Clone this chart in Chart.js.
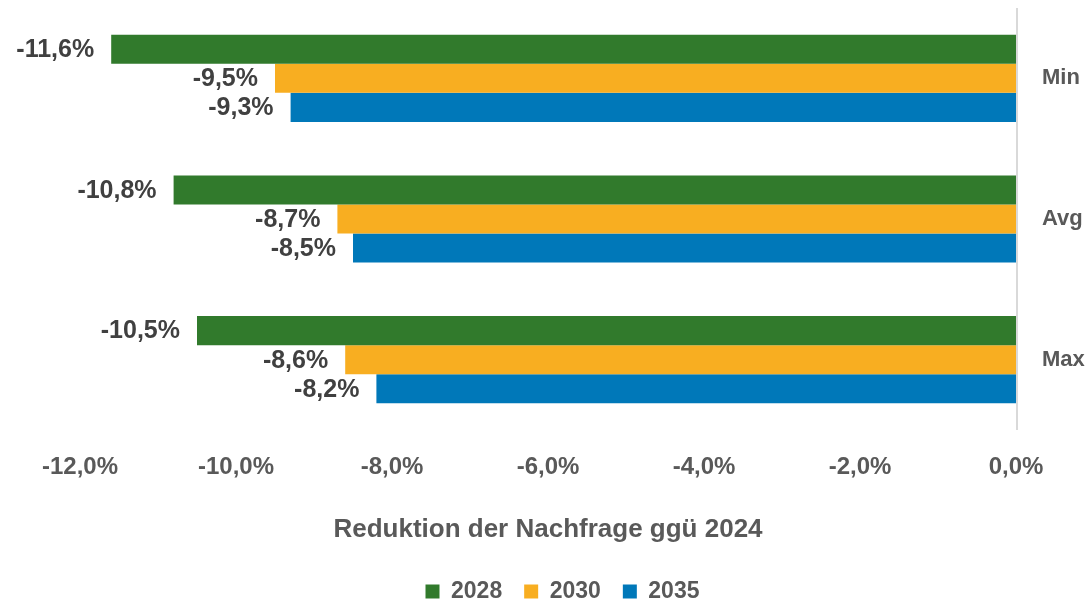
<!DOCTYPE html>
<html>
<head>
<meta charset="utf-8">
<script src="https://cdn.jsdelivr.net/npm/chart.js@4.4.1/dist/chart.umd.min.js"></script>
<style>
html,body{margin:0;padding:0;background:#fff;}
#wrap{width:1089px;height:603px;position:relative;}
</style>
</head>
<body>
<div id="wrap"><canvas id="c" width="1089" height="603"></canvas></div>
<script>
const categories = ["Min", "Avg", "Max"];
const seriesNames = ["2028", "2030", "2035"];
const values2028 = [-11.6, -10.8, -10.5];
const values2030 = [-9.5, -8.7, -8.6];
const values2035 = [-9.3, -8.5, -8.2];
const xTicks = [-12, -10, -8, -6, -4, -2, 0];
const axisTitle = "Reduktion der Nachfrage ggü 2024";
const colors = ["#317a2c", "#f8ae21", "#0078b9"];

const FONT = "'Liberation Sans', Arial, sans-serif";
const fmt = v => v.toFixed(1).replace('.', ',') + '%';

const labelPlugin = {
  id: 'barLabels',
  afterDatasetsDraw(chart) {
    const ctx = chart.ctx;
    ctx.save();
    ctx.font = "bold 25px " + FONT;
    ctx.fillStyle = "#404040";
    ctx.textAlign = "right";
    ctx.textBaseline = "middle";
    chart.data.datasets.forEach((ds, i) => {
      chart.getDatasetMeta(i).data.forEach((bar, j) => {
        ctx.fillText(fmt(ds.data[j]), bar.x - 17, bar.y + 1);
      });
    });
    ctx.restore();
  }
};

const zeroLine = {
  id: 'zeroLine',
  beforeDatasetsDraw(chart) {
    const x = chart.scales.x.getPixelForValue(0);
    const ctx = chart.ctx;
    ctx.save();
    ctx.strokeStyle = "#d9d9d9";
    ctx.lineWidth = 2;
    ctx.beginPath();
    ctx.moveTo(x + 1, chart.chartArea.top);
    ctx.lineTo(x + 1, chart.chartArea.bottom);
    ctx.stroke();
    ctx.restore();
  }
};

const PAD_BOTTOM = -10;

new Chart(document.getElementById('c'), {
  type: 'bar',
  data: {
    labels: categories,
    datasets: [
      { label: seriesNames[0], data: values2028, backgroundColor: colors[0] },
      { label: seriesNames[1], data: values2030, backgroundColor: colors[1] },
      { label: seriesNames[2], data: values2035, backgroundColor: colors[2] }
    ]
  },
  options: {
    indexAxis: 'y',
    responsive: false,
    animation: false,
    devicePixelRatio: 1,
    datasets: { bar: { barPercentage: 1.0, categoryPercentage: 0.62 } },
    layout: { padding: { top: 8, left: 36, right: 0, bottom: PAD_BOTTOM } },
    scales: {
      x: {
        min: -12, max: 0,
        afterBuildTicks(scale) { scale.ticks = xTicks.map(v => ({ value: v })); },
        afterFit(scale) {
          const L = (scale.chart.legend && scale.chart.legend.height) || 43;
          scale.height = 603 - 430 - PAD_BOTTOM - L;
          scale.paddingLeft = 80;
        },
        grid: { display: false, drawTicks: false },
        border: { display: false },
        ticks: {
          color: "#595959",
          font: { family: FONT, size: 24, weight: 'bold' },
          padding: 23,
          callback: v => fmt(v)
        },
        title: {
          display: true,
          text: axisTitle,
          color: "#595959",
          font: { family: FONT, size: 26, weight: 'bold' },
          padding: { top: 10, bottom: 13 }
        }
      },
      y: {
        position: 'right',
        grid: { display: true, drawOnChartArea: false, drawTicks: true, tickLength: 24, color: 'rgba(0,0,0,0)' },
        border: { display: false },
        ticks: {
          color: "#595959",
          font: { family: FONT, size: 22, weight: 'bold' },
          padding: 2
        },
        afterFit(scale) { scale.width = 73; scale.paddingTop = 0; scale.paddingBottom = 0; }
      }
    },
    plugins: {
      legend: {
        position: 'bottom',
        labels: {
          color: "#595959",
          font: { family: FONT, size: 23, weight: 'bold' },
          boxWidth: 14, boxHeight: 14,
          padding: 22
        }
      },
      tooltip: { enabled: false }
    }
  },
  plugins: [labelPlugin, zeroLine]
});
</script>
</body>
</html>
